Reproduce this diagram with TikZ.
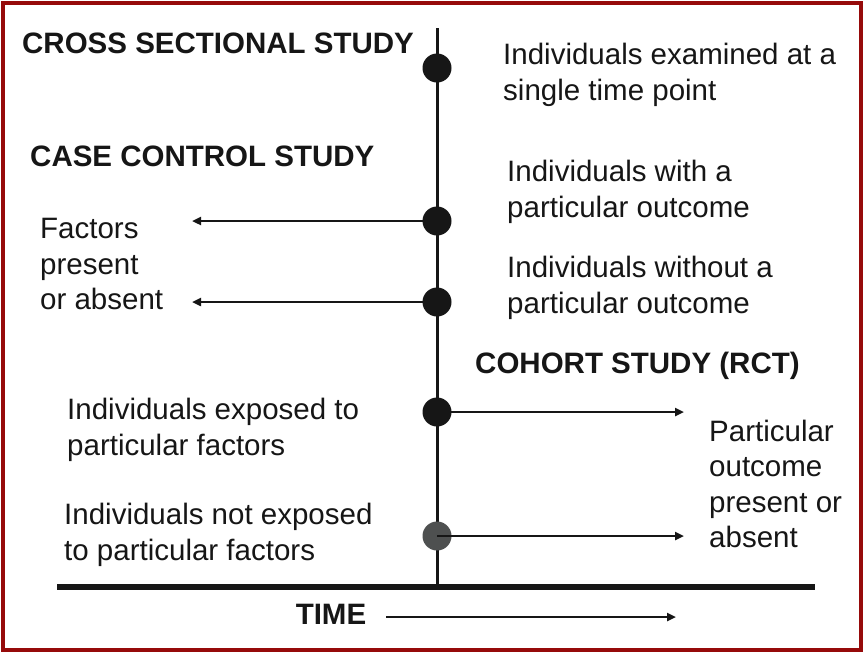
\documentclass[tikz,border=0pt]{standalone}
\usepackage{fontspec}
\setmainfont{Liberation Sans}
\usetikzlibrary{arrows.meta}
\definecolor{FrameRed}{RGB}{150,10,10}
\definecolor{InkBlack}{RGB}{22,22,22}
\definecolor{DotGrey}{RGB}{78,80,80}

\begin{document}
\begin{tikzpicture}[x=1pt,y=-1pt,
    txt/.style={anchor=west,align=left,inner sep=0pt,text=InkBlack,
                font=\fontsize{29.5}{35.5}\selectfont},
    head/.style={txt,font=\fontsize{29.5}{35.5}\selectfont\bfseries},
    dot/.style={circle,fill=InkBlack,minimum size=29pt,inner sep=0pt},
    arr/.style={-{Triangle[length=9pt,width=8pt]},line width=2.6pt,draw=InkBlack}]
    % page and frame
    \fill[white] (0,0) rectangle (866,654);
    \draw[FrameRed,line width=3.5pt] (3,3) rectangle (861,650);

    % time axis
    \coordinate (top) at (437,28);
    \coordinate (axis) at (437,587);
    \coordinate (baseW) at (57,587);
    \coordinate (baseE) at (815,587);
    \draw[InkBlack,line width=3pt] (top) -- (axis);
    \draw[InkBlack,line width=5.5pt] (baseW) -- (baseE);

    \node[dot] (cross) at (437,68) {};
    \node[dot] (cases) at (437,221) {};
    \node[dot] (controls) at (437,302) {};
    \node[dot] (exposed) at (437,412) {};
    \node[dot,fill=DotGrey] (unexposed) at (437,536) {};

    % headings
    \node[head] (crossHead) at (22,43) {CROSS SECTIONAL STUDY};
    \node[head] (caseHead) at (30,156) {CASE CONTROL STUDY};
    \node[head] (cohortHead) at (475,366) {COHORT STUDY (RCT)};

    % texts
    \node[txt] (crossTxt) at (503,75) {Individuals examined at a\\single time point};
    \node[txt] (casesTxt) at (507,192) {Individuals with a\\particular outcome};
    \node[txt] (controlsTxt) at (507,288) {Individuals without a\\particular outcome};
    \node[txt] (factorsTxt) at (40,264) {Factors\\present\\or absent};
    \node[txt] (exposedTxt) at (67,430) {Individuals exposed to\\particular factors};
    \node[txt] (unexposedTxt) at (64,535) {Individuals not exposed\\to particular factors};
    \node[txt] (outcomeTxt) at (709,484) {Particular\\outcome\\present or\\absent};

    % arrows
    \coordinate (backA) at (192,221);
    \coordinate (backB) at (192,302);
    \coordinate (fwdA) at (684,412);
    \coordinate (fwdB) at (684,536);
    \draw[arr] (cases.center) -- (backA);
    \draw[arr] (controls.center) -- (backB);
    \draw[arr] (exposed.center) -- (fwdA);
    \draw[arr] (unexposed.center) -- (fwdB);

    \node[head,anchor=center] (time) at (331,614) {TIME};
    \coordinate (timeEnd) at (676,617);
    \draw[arr,line width=2.2pt] ([xshift=20pt]time.east |- timeEnd) -- (timeEnd);
\end{tikzpicture}
\end{document}
